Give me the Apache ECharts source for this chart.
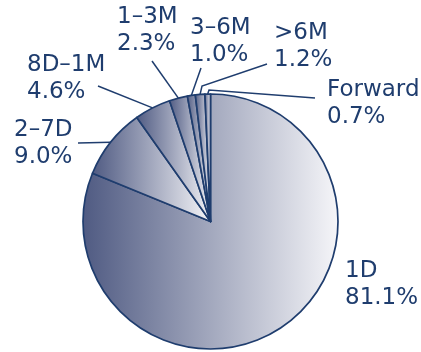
<!DOCTYPE html>
<html>
<head>
<meta charset="utf-8">
<script src="https://cdn.jsdelivr.net/npm/echarts@6/dist/echarts.min.js"></script>
<style>
  html, body { margin: 0; padding: 0; background: #ffffff; }
  #chart { width: 421px; height: 352px; }
</style>
</head>
<body>
<div id="chart"></div>
<script>
// Maturity buckets, share of turnover (%)
const categories = ['1D', '2–7D', '8D–1M', '1–3M', '3–6M', '>6M', 'Forward'];
const shares = [81.1, 9.0, 4.6, 2.3, 1.0, 1.2, 0.7];

// Label placement: top-left of each label block and leader-line bend/end points
const labelAnchors = [
  { x: 345, y: 258, line: null },
  { x: 14, y: 117, line: [[78, 143]] },
  { x: 27, y: 52, line: [[98, 86]] },
  { x: 117, y: 4, line: [[152, 61]] },
  { x: 190, y: 15, line: [[201, 68]] },
  { x: 274, y: 20, line: [[202, 86], [267, 64]] },
  { x: 327, y: 77, line: [[209, 90], [315, 98]] }
];

const ink = '#1f3d6e';

const chart = echarts.init(document.getElementById('chart'), null, { renderer: 'canvas' });

chart.setOption({
  animation: false,
  backgroundColor: '#ffffff',
  series: [{
    type: 'pie',
    center: [210.5, 221.5],
    radius: 127.5,
    startAngle: 90,
    clockwise: true,
    data: categories.map((name, i) => ({
      name: name,
      value: shares[i],
      labelLine: { show: i !== 0 }
    })),
    itemStyle: {
      borderColor: ink,
      borderWidth: 1.7,
      color: new echarts.graphic.LinearGradient(0, 0, 1, 0, [
        { offset: 0, color: '#4f5a82' },
        { offset: 1, color: '#f6f6f9' }
      ])
    },
    label: {
      show: true,
      position: 'outside',
      alignTo: 'none',
      overflow: 'none',
      color: ink,
      fontFamily: 'DejaVu Sans',
      fontSize: 23,
      lineHeight: 26.5,
      formatter: p => p.name + '\n' + p.value.toFixed(1) + '%'
    },
    labelLine: {
      show: true,
      lineStyle: { color: ink, width: 1.5 }
    },
    labelLayout: function (params) {
      const a = labelAnchors[params.dataIndex];
      const out = { x: a.x, y: a.y, align: 'left', verticalAlign: 'top' };
      if (a.line && params.labelLinePoints) {
        out.labelLinePoints = [params.labelLinePoints[0]].concat(a.line);
      }
      return out;
    },
    emphasis: { disabled: true }
  }]
});
</script>
</body>
</html>
